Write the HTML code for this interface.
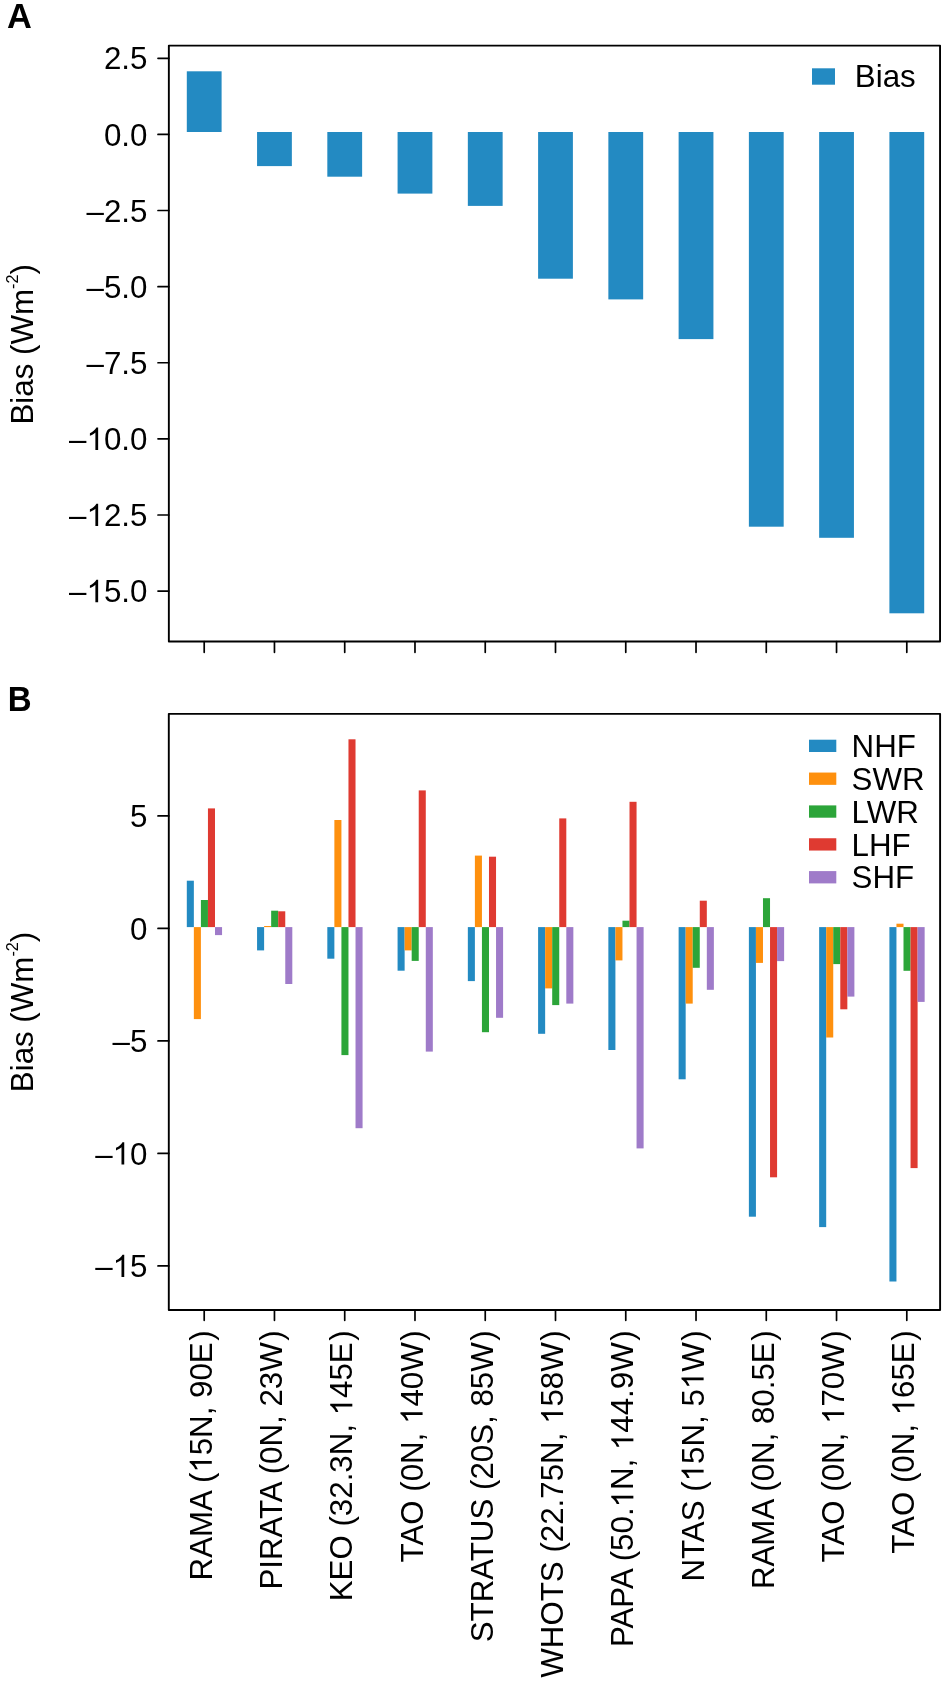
<!DOCTYPE html><html><head><meta charset="utf-8"><style>
html,body{margin:0;padding:0;background:#fff;}
svg{display:block;will-change:transform;font-family:"Liberation Sans",sans-serif;}
.t{font-size:31.3px;fill:#000;}
.h{fill-opacity:0;}
</style></head><body>
<svg width="945" height="1682" viewBox="0 0 945 1682">
<rect x="0" y="0" width="945" height="1682" fill="#fff"/>
<text x="7.05" y="27.9" font-size="34.4" font-weight="bold" fill="#000">A</text>
<text transform="translate(7.8,710.7) scale(0.96,1)" font-size="34.4" font-weight="bold" fill="#000">B</text>
<rect x="186.8" y="71.3" width="34.8" height="60.7" fill="#238ac2"/>
<rect x="257.06" y="132" width="34.8" height="34.1" fill="#238ac2"/>
<rect x="327.32" y="132" width="34.8" height="44.7" fill="#238ac2"/>
<rect x="397.58" y="132" width="34.8" height="61.6" fill="#238ac2"/>
<rect x="467.84" y="132" width="34.8" height="73.9" fill="#238ac2"/>
<rect x="538.1" y="132" width="34.8" height="146.7" fill="#238ac2"/>
<rect x="608.36" y="132" width="34.8" height="167.4" fill="#238ac2"/>
<rect x="678.62" y="132" width="34.8" height="207.1" fill="#238ac2"/>
<rect x="748.88" y="132" width="34.8" height="394.7" fill="#238ac2"/>
<rect x="819.14" y="132" width="34.8" height="405.8" fill="#238ac2"/>
<rect x="889.4" y="132" width="34.8" height="481.3" fill="#238ac2"/>
<rect x="186.8" y="880.7" width="7.05" height="46.4" fill="#238ac2"/>
<rect x="193.85" y="927.1" width="7.05" height="92" fill="#fe900e"/>
<rect x="200.9" y="900" width="7.05" height="27.1" fill="#2ca539"/>
<rect x="207.95" y="808.4" width="7.05" height="118.7" fill="#df3a31"/>
<rect x="215" y="927.1" width="7.05" height="8" fill="#9f7bc9"/>
<rect x="257.06" y="927.1" width="7.05" height="23.3" fill="#238ac2"/>
<rect x="264.11" y="926" width="7.05" height="1.1" fill="#fe900e"/>
<rect x="271.16" y="910.7" width="7.05" height="16.4" fill="#2ca539"/>
<rect x="278.21" y="911.3" width="7.05" height="15.8" fill="#df3a31"/>
<rect x="285.26" y="927.1" width="7.05" height="56.9" fill="#9f7bc9"/>
<rect x="327.32" y="927.1" width="7.05" height="31.6" fill="#238ac2"/>
<rect x="334.37" y="820" width="7.05" height="107.1" fill="#fe900e"/>
<rect x="341.42" y="927.1" width="7.05" height="128" fill="#2ca539"/>
<rect x="348.47" y="739.3" width="7.05" height="187.8" fill="#df3a31"/>
<rect x="355.52" y="927.1" width="7.05" height="201.1" fill="#9f7bc9"/>
<rect x="397.58" y="927.1" width="7.05" height="43.6" fill="#238ac2"/>
<rect x="404.63" y="927.1" width="7.05" height="23.3" fill="#fe900e"/>
<rect x="411.68" y="927.1" width="7.05" height="33.8" fill="#2ca539"/>
<rect x="418.73" y="790.4" width="7.05" height="136.7" fill="#df3a31"/>
<rect x="425.78" y="927.1" width="7.05" height="124.5" fill="#9f7bc9"/>
<rect x="467.84" y="927.1" width="7.05" height="54" fill="#238ac2"/>
<rect x="474.89" y="855.6" width="7.05" height="71.5" fill="#fe900e"/>
<rect x="481.94" y="927.1" width="7.05" height="105.1" fill="#2ca539"/>
<rect x="488.99" y="856.7" width="7.05" height="70.4" fill="#df3a31"/>
<rect x="496.04" y="927.1" width="7.05" height="90.7" fill="#9f7bc9"/>
<rect x="538.1" y="927.1" width="7.05" height="106.7" fill="#238ac2"/>
<rect x="545.15" y="927.1" width="7.05" height="61.3" fill="#fe900e"/>
<rect x="552.2" y="927.1" width="7.05" height="78" fill="#2ca539"/>
<rect x="559.25" y="818.4" width="7.05" height="108.7" fill="#df3a31"/>
<rect x="566.3" y="927.1" width="7.05" height="76.5" fill="#9f7bc9"/>
<rect x="608.36" y="927.1" width="7.05" height="122.9" fill="#238ac2"/>
<rect x="615.41" y="927.1" width="7.05" height="33.3" fill="#fe900e"/>
<rect x="622.46" y="920.7" width="7.05" height="6.4" fill="#2ca539"/>
<rect x="629.51" y="801.8" width="7.05" height="125.3" fill="#df3a31"/>
<rect x="636.56" y="927.1" width="7.05" height="221.3" fill="#9f7bc9"/>
<rect x="678.62" y="927.1" width="7.05" height="152.2" fill="#238ac2"/>
<rect x="685.67" y="927.1" width="7.05" height="76.5" fill="#fe900e"/>
<rect x="692.72" y="927.1" width="7.05" height="40.7" fill="#2ca539"/>
<rect x="699.77" y="900.7" width="7.05" height="26.4" fill="#df3a31"/>
<rect x="706.82" y="927.1" width="7.05" height="62.7" fill="#9f7bc9"/>
<rect x="748.88" y="927.1" width="7.05" height="289.6" fill="#238ac2"/>
<rect x="755.93" y="927.1" width="7.05" height="35.8" fill="#fe900e"/>
<rect x="762.98" y="898.2" width="7.05" height="28.9" fill="#2ca539"/>
<rect x="770.03" y="927.1" width="7.05" height="250.2" fill="#df3a31"/>
<rect x="777.08" y="927.1" width="7.05" height="34" fill="#9f7bc9"/>
<rect x="819.14" y="927.1" width="7.05" height="300" fill="#238ac2"/>
<rect x="826.19" y="927.1" width="7.05" height="110.4" fill="#fe900e"/>
<rect x="833.24" y="927.1" width="7.05" height="37" fill="#2ca539"/>
<rect x="840.29" y="927.1" width="7.05" height="82.2" fill="#df3a31"/>
<rect x="847.34" y="927.1" width="7.05" height="69.5" fill="#9f7bc9"/>
<rect x="889.4" y="927.1" width="7.05" height="354.4" fill="#238ac2"/>
<rect x="896.45" y="923.7" width="7.05" height="3.4" fill="#fe900e"/>
<rect x="903.5" y="927.1" width="7.05" height="43.7" fill="#2ca539"/>
<rect x="910.55" y="927.1" width="7.05" height="241" fill="#df3a31"/>
<rect x="917.6" y="927.1" width="7.05" height="74.8" fill="#9f7bc9"/>
<g fill="none" stroke="#000" stroke-width="1.9" stroke-linejoin="round">
<rect x="168.85" y="45.6" width="771.2" height="595.95"/>
<rect x="168.8" y="713.85" width="771.3" height="596.15"/>
</g>
<g fill="none" stroke="#000" stroke-width="1.7" stroke-linecap="round">
<line x1="158" y1="58.28" x2="168.8" y2="58.28"/>
<line x1="158" y1="134.4" x2="168.8" y2="134.4"/>
<line x1="158" y1="210.52" x2="168.8" y2="210.52"/>
<line x1="158" y1="286.63" x2="168.8" y2="286.63"/>
<line x1="158" y1="362.75" x2="168.8" y2="362.75"/>
<line x1="158" y1="438.86" x2="168.8" y2="438.86"/>
<line x1="158" y1="514.98" x2="168.8" y2="514.98"/>
<line x1="158" y1="591.09" x2="168.8" y2="591.09"/>
<line x1="158" y1="815.95" x2="168.8" y2="815.95"/>
<line x1="158" y1="928.45" x2="168.8" y2="928.45"/>
<line x1="158" y1="1040.95" x2="168.8" y2="1040.95"/>
<line x1="158" y1="1153.45" x2="168.8" y2="1153.45"/>
<line x1="158" y1="1265.95" x2="168.8" y2="1265.95"/>
<line x1="204.2" y1="641.6" x2="204.2" y2="652.3"/>
<line x1="204.2" y1="1310" x2="204.2" y2="1320.3"/>
<line x1="274.46" y1="641.6" x2="274.46" y2="652.3"/>
<line x1="274.46" y1="1310" x2="274.46" y2="1320.3"/>
<line x1="344.72" y1="641.6" x2="344.72" y2="652.3"/>
<line x1="344.72" y1="1310" x2="344.72" y2="1320.3"/>
<line x1="414.98" y1="641.6" x2="414.98" y2="652.3"/>
<line x1="414.98" y1="1310" x2="414.98" y2="1320.3"/>
<line x1="485.24" y1="641.6" x2="485.24" y2="652.3"/>
<line x1="485.24" y1="1310" x2="485.24" y2="1320.3"/>
<line x1="555.5" y1="641.6" x2="555.5" y2="652.3"/>
<line x1="555.5" y1="1310" x2="555.5" y2="1320.3"/>
<line x1="625.76" y1="641.6" x2="625.76" y2="652.3"/>
<line x1="625.76" y1="1310" x2="625.76" y2="1320.3"/>
<line x1="696.02" y1="641.6" x2="696.02" y2="652.3"/>
<line x1="696.02" y1="1310" x2="696.02" y2="1320.3"/>
<line x1="766.28" y1="641.6" x2="766.28" y2="652.3"/>
<line x1="766.28" y1="1310" x2="766.28" y2="1320.3"/>
<line x1="836.54" y1="641.6" x2="836.54" y2="652.3"/>
<line x1="836.54" y1="1310" x2="836.54" y2="1320.3"/>
<line x1="906.8" y1="641.6" x2="906.8" y2="652.3"/>
<line x1="906.8" y1="1310" x2="906.8" y2="1320.3"/>
</g>
<text id="tx1" class="t" transform="translate(147.4,69.38) scale(1,1.03)" text-anchor="end">2.5</text>
<text id="tx2" class="t" transform="translate(147.4,145.5) scale(1,1.03)" text-anchor="end">0.0</text>
<text id="tx3" class="t" transform="translate(147.4,221.62) scale(1,1.03)" text-anchor="end">–2.5</text>
<text id="tx4" class="t" transform="translate(147.4,297.73) scale(1,1.03)" text-anchor="end">–5.0</text>
<text id="tx5" class="t" transform="translate(147.4,373.85) scale(1,1.03)" text-anchor="end">–7.5</text>
<text id="tx6" class="t" transform="translate(147.4,449.96) scale(1,1.03)" text-anchor="end">–<tspan class="h">1</tspan>0.0</text>
<g transform="translate(147.4,449.96) scale(1,1.03)"><path transform="translate(-60.92,0) scale(0.015283,-0.015283)" d="M763 0L583 0L583 1106C540 1067 483 1026 413 987C343 947 280 917 224 897L224 1065C325 1110 413 1166 488 1231C563 1296 617 1359 648 1420L763 1420Z"/></g>
<text id="tx7" class="t" transform="translate(147.4,526.08) scale(1,1.03)" text-anchor="end">–<tspan class="h">1</tspan>2.5</text>
<g transform="translate(147.4,526.08) scale(1,1.03)"><path transform="translate(-60.92,0) scale(0.015283,-0.015283)" d="M763 0L583 0L583 1106C540 1067 483 1026 413 987C343 947 280 917 224 897L224 1065C325 1110 413 1166 488 1231C563 1296 617 1359 648 1420L763 1420Z"/></g>
<text id="tx8" class="t" transform="translate(147.4,602.19) scale(1,1.03)" text-anchor="end">–<tspan class="h">1</tspan>5.0</text>
<g transform="translate(147.4,602.19) scale(1,1.03)"><path transform="translate(-60.92,0) scale(0.015283,-0.015283)" d="M763 0L583 0L583 1106C540 1067 483 1026 413 987C343 947 280 917 224 897L224 1065C325 1110 413 1166 488 1231C563 1296 617 1359 648 1420L763 1420Z"/></g>
<text id="tx9" class="t" transform="translate(147.4,827.05) scale(1,1.03)" text-anchor="end">5</text>
<text id="tx10" class="t" transform="translate(147.4,939.55) scale(1,1.03)" text-anchor="end">0</text>
<text id="tx11" class="t" transform="translate(147.4,1052.05) scale(1,1.03)" text-anchor="end">–5</text>
<text id="tx12" class="t" transform="translate(147.4,1164.55) scale(1,1.03)" text-anchor="end">–<tspan class="h">1</tspan>0</text>
<g transform="translate(147.4,1164.55) scale(1,1.03)"><path transform="translate(-34.82,0) scale(0.015283,-0.015283)" d="M763 0L583 0L583 1106C540 1067 483 1026 413 987C343 947 280 917 224 897L224 1065C325 1110 413 1166 488 1231C563 1296 617 1359 648 1420L763 1420Z"/></g>
<text id="tx13" class="t" transform="translate(147.4,1277.05) scale(1,1.03)" text-anchor="end">–<tspan class="h">1</tspan>5</text>
<g transform="translate(147.4,1277.05) scale(1,1.03)"><path transform="translate(-34.82,0) scale(0.015283,-0.015283)" d="M763 0L583 0L583 1106C540 1067 483 1026 413 987C343 947 280 917 224 897L224 1065C325 1110 413 1166 488 1231C563 1296 617 1359 648 1420L763 1420Z"/></g>
<text id="tx14" class="t" transform="translate(32.9,424.6) rotate(-90) scale(1,1.02)">Bias (Wm<tspan font-size="16.2" dy="-14.9">-2</tspan><tspan dy="14.9">)</tspan></text>
<text id="tx15" class="t" transform="translate(32.9,1092.2) rotate(-90) scale(1,1.02)">Bias (Wm<tspan font-size="16.2" dy="-14.9">-2</tspan><tspan dy="14.9">)</tspan></text>
<text id="tx16" class="t" transform="translate(211.8,1330.3) rotate(-90) scale(1,1.02)" text-anchor="end" style="font-size:31.28px">RAMA (<tspan class="h">1</tspan>5N, 90E<tspan dx="1.6">)</tspan></text>
<g transform="translate(211.8,1330.3) rotate(-90) scale(1,1.02)"><path transform="translate(-142.39,0) scale(0.015273,-0.015273)" d="M763 0L583 0L583 1106C540 1067 483 1026 413 987C343 947 280 917 224 897L224 1065C325 1110 413 1166 488 1231C563 1296 617 1359 648 1420L763 1420Z"/></g>
<text id="tx17" class="t" transform="translate(282.06,1330.3) rotate(-90) scale(1,1.02)" text-anchor="end" style="font-size:31.28px">PIRATA (0N, 23W<tspan dx="1.6">)</tspan></text>
<text id="tx18" class="t" transform="translate(352.32,1330.3) rotate(-90) scale(1,1.02)" text-anchor="end" style="font-size:31.28px">KEO (32.3N, <tspan class="h">1</tspan>45E<tspan dx="1.6">)</tspan></text>
<g transform="translate(352.32,1330.3) rotate(-90) scale(1,1.02)"><path transform="translate(-85.04,0) scale(0.015273,-0.015273)" d="M763 0L583 0L583 1106C540 1067 483 1026 413 987C343 947 280 917 224 897L224 1065C325 1110 413 1166 488 1231C563 1296 617 1359 648 1420L763 1420Z"/></g>
<text id="tx19" class="t" transform="translate(422.58,1330.3) rotate(-90) scale(1,1.02)" text-anchor="end" style="font-size:31.28px">TAO (0N, <tspan class="h">1</tspan>40W<tspan dx="1.6">)</tspan></text>
<g transform="translate(422.58,1330.3) rotate(-90) scale(1,1.02)"><path transform="translate(-93.71,0) scale(0.015273,-0.015273)" d="M763 0L583 0L583 1106C540 1067 483 1026 413 987C343 947 280 917 224 897L224 1065C325 1110 413 1166 488 1231C563 1296 617 1359 648 1420L763 1420Z"/></g>
<text id="tx20" class="t" transform="translate(492.84,1330.3) rotate(-90) scale(1,1.02)" text-anchor="end" style="font-size:31.28px">STRATUS (20S, 85W<tspan dx="1.6">)</tspan></text>
<text id="tx21" class="t" transform="translate(563.1,1330.3) rotate(-90) scale(1,1.02)" text-anchor="end" style="font-size:31.28px">WHOTS (22.75N, <tspan class="h">1</tspan>58W<tspan dx="1.6">)</tspan></text>
<g transform="translate(563.1,1330.3) rotate(-90) scale(1,1.02)"><path transform="translate(-93.71,0) scale(0.015273,-0.015273)" d="M763 0L583 0L583 1106C540 1067 483 1026 413 987C343 947 280 917 224 897L224 1065C325 1110 413 1166 488 1231C563 1296 617 1359 648 1420L763 1420Z"/></g>
<text id="tx22" class="t" transform="translate(633.36,1330.3) rotate(-90) scale(1,1.02)" text-anchor="end" style="font-size:31.28px">PAPA (50.<tspan class="h">1</tspan>N, <tspan class="h">1</tspan>44.9W<tspan dx="1.6">)</tspan></text>
<g transform="translate(633.36,1330.3) rotate(-90) scale(1,1.02)"><path transform="translate(-177.12,0) scale(0.015273,-0.015273)" d="M763 0L583 0L583 1106C540 1067 483 1026 413 987C343 947 280 917 224 897L224 1065C325 1110 413 1166 488 1231C563 1296 617 1359 648 1420L763 1420Z"/><path transform="translate(-119.77,0) scale(0.015273,-0.015273)" d="M763 0L583 0L583 1106C540 1067 483 1026 413 987C343 947 280 917 224 897L224 1065C325 1110 413 1166 488 1231C563 1296 617 1359 648 1420L763 1420Z"/></g>
<text id="tx23" class="t" transform="translate(703.62,1330.3) rotate(-90) scale(1,1.02)" text-anchor="end" style="font-size:31.28px">NTAS (<tspan class="h">1</tspan>5N, 5<tspan class="h">1</tspan>W<tspan dx="1.6">)</tspan></text>
<g transform="translate(703.62,1330.3) rotate(-90) scale(1,1.02)"><path transform="translate(-151.05,0) scale(0.015273,-0.015273)" d="M763 0L583 0L583 1106C540 1067 483 1026 413 987C343 947 280 917 224 897L224 1065C325 1110 413 1166 488 1231C563 1296 617 1359 648 1420L763 1420Z"/><path transform="translate(-58.93,0) scale(0.015273,-0.015273)" d="M763 0L583 0L583 1106C540 1067 483 1026 413 987C343 947 280 917 224 897L224 1065C325 1110 413 1166 488 1231C563 1296 617 1359 648 1420L763 1420Z"/></g>
<text id="tx24" class="t" transform="translate(773.88,1330.3) rotate(-90) scale(1,1.02)" text-anchor="end" style="font-size:31.28px">RAMA (0N, 80.5E<tspan dx="1.6">)</tspan></text>
<text id="tx25" class="t" transform="translate(844.14,1330.3) rotate(-90) scale(1,1.02)" text-anchor="end" style="font-size:31.28px">TAO (0N, <tspan class="h">1</tspan>70W<tspan dx="1.6">)</tspan></text>
<g transform="translate(844.14,1330.3) rotate(-90) scale(1,1.02)"><path transform="translate(-93.71,0) scale(0.015273,-0.015273)" d="M763 0L583 0L583 1106C540 1067 483 1026 413 987C343 947 280 917 224 897L224 1065C325 1110 413 1166 488 1231C563 1296 617 1359 648 1420L763 1420Z"/></g>
<text id="tx26" class="t" transform="translate(914.4,1330.3) rotate(-90) scale(1,1.02)" text-anchor="end" style="font-size:31.28px">TAO (0N, <tspan class="h">1</tspan>65E<tspan dx="1.6">)</tspan></text>
<g transform="translate(914.4,1330.3) rotate(-90) scale(1,1.02)"><path transform="translate(-85.04,0) scale(0.015273,-0.015273)" d="M763 0L583 0L583 1106C540 1067 483 1026 413 987C343 947 280 917 224 897L224 1065C325 1110 413 1166 488 1231C563 1296 617 1359 648 1420L763 1420Z"/></g>
<rect x="812" y="68.3" width="23" height="16.4" fill="#238ac2"/>
<text id="tx27" class="t" transform="translate(854.8,87.1) scale(1,1.02)">Bias</text>
<rect x="809" y="739.7" width="27.3" height="12.3" fill="#238ac2"/>
<text id="tx28" class="t" transform="translate(851.6,757.4) scale(1,1.02)">NHF</text>
<rect x="809" y="772.55" width="27.3" height="12.3" fill="#fe900e"/>
<text id="tx29" class="t" transform="translate(851.6,790.1) scale(1,1.02)">SWR</text>
<rect x="809" y="805.4" width="27.3" height="12.3" fill="#2ca539"/>
<text id="tx30" class="t" transform="translate(851.6,822.8) scale(1,1.02)">LWR</text>
<rect x="809" y="838.25" width="27.3" height="12.3" fill="#df3a31"/>
<text id="tx31" class="t" transform="translate(851.6,855.5) scale(1,1.02)">LHF</text>
<rect x="809" y="871.1" width="27.3" height="12.3" fill="#9f7bc9"/>
<text id="tx32" class="t" transform="translate(851.6,888.2) scale(1,1.02)">SHF</text>
</svg></body></html>
